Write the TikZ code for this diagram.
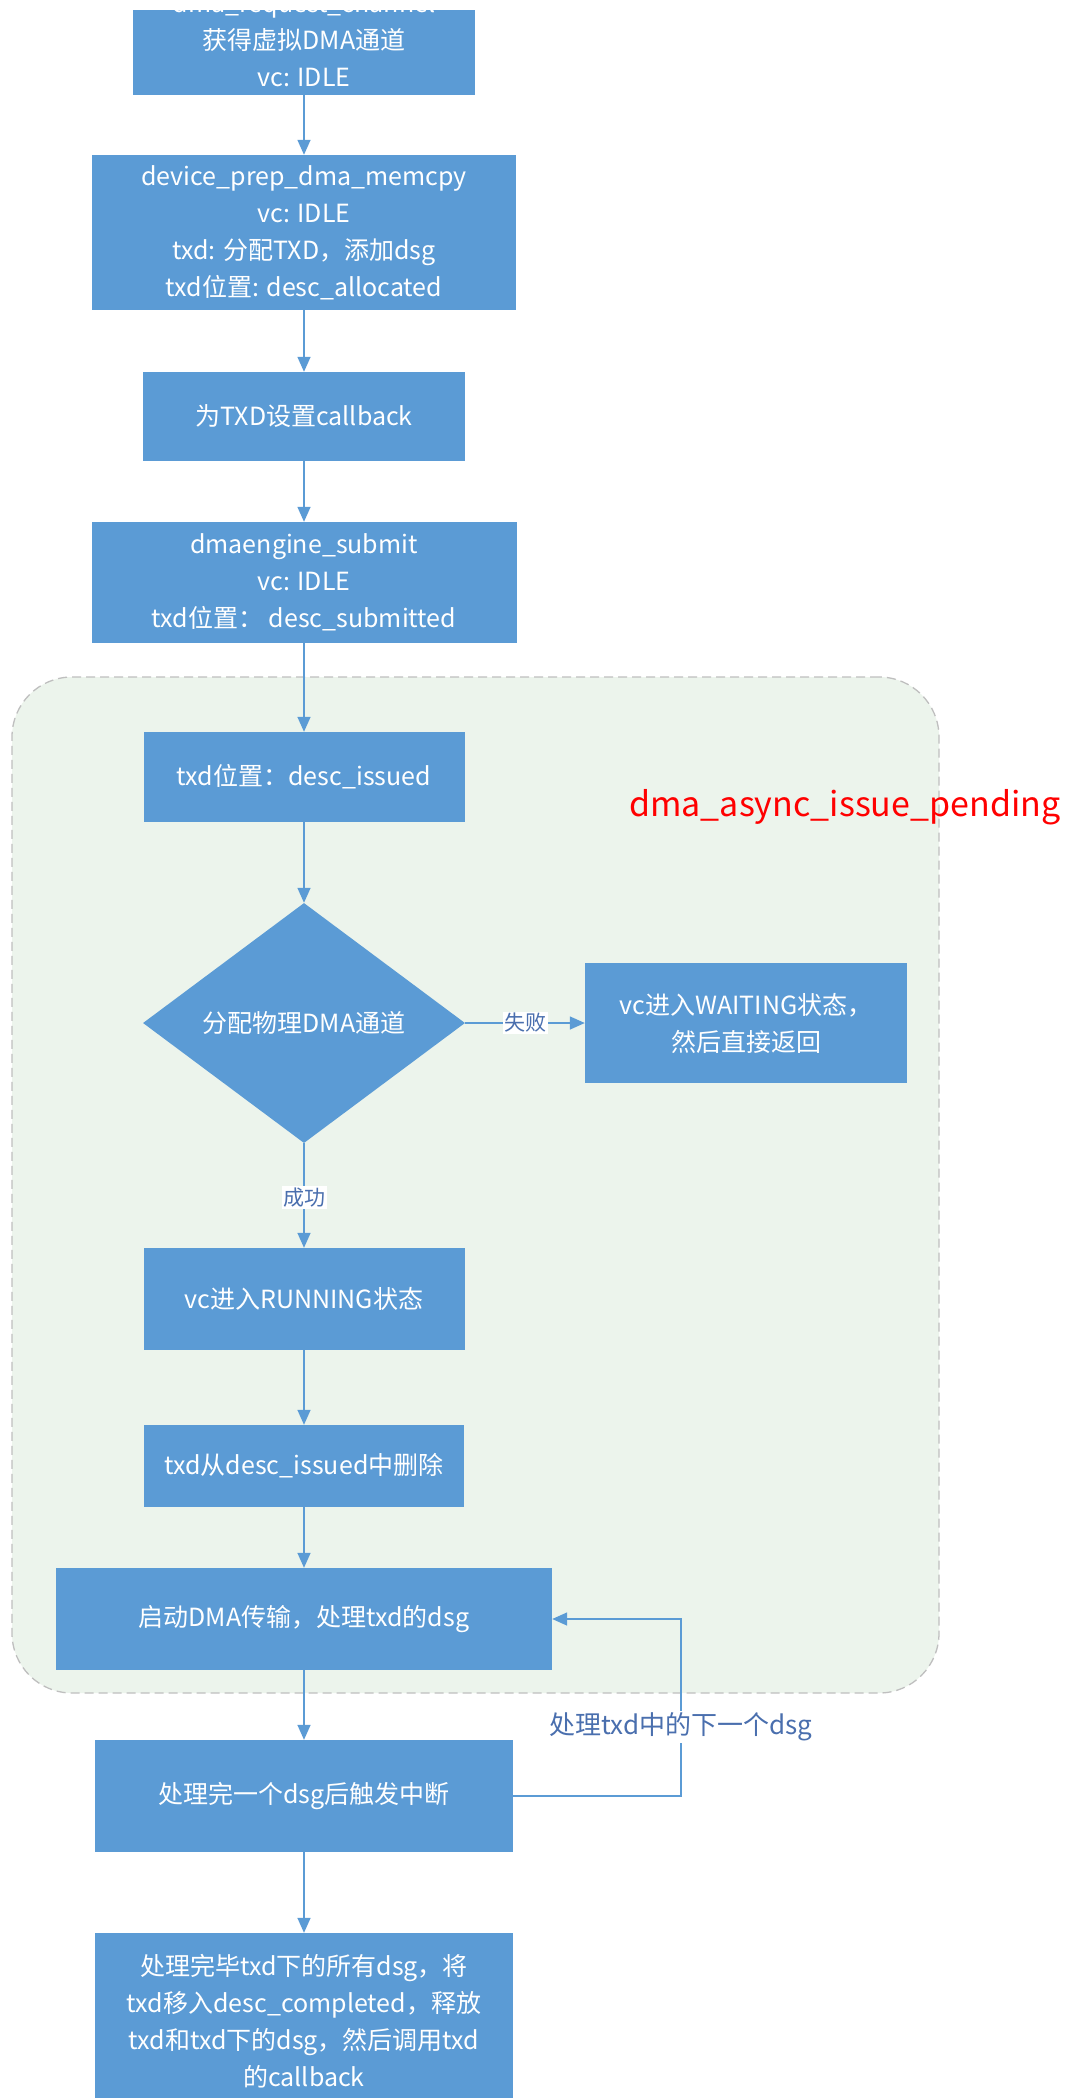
\documentclass[tikz,border=0pt]{standalone}
\usepackage{fontspec}
\setmainfont{Noto Sans CJK SC}
\usetikzlibrary{arrows.meta,shapes.geometric}
\definecolor{boxblue}{HTML}{5B9BD5}
\definecolor{lineblue}{HTML}{5B9BD5}
\definecolor{bggreen}{HTML}{ECF4EC}
\definecolor{dashgray}{HTML}{BFBFBF}
\definecolor{labeltext}{HTML}{4A6FAE}
\begin{document}
\begin{tikzpicture}[x=1pt,y=-1pt,
  blk/.style={rectangle, fill=boxblue, text=white, align=center, inner sep=0pt,
    font=\fontsize{25}{37}\selectfont},
  decide/.style={diamond, aspect=1.34, fill=boxblue, text=white, inner sep=0pt,
    font=\fontsize{25}{37}\selectfont},
  conn/.style={draw=lineblue, line width=1.5pt, -{Triangle[width=13pt,length=15pt]}},
  lbl/.style={fill=white, text=labeltext, inner sep=1.5pt, font=\fontsize{21}{24}\selectfont},
  grpbox/.style={rectangle, draw=dashgray, fill=bggreen, dash pattern=on 9pt off 5pt,
    line width=1.3pt, rounded corners=60pt, inner sep=0pt}
]
\useasboundingbox (0,0) rectangle (1071,2098);
\fill[white] (0,0) rectangle (1071,2098);

% group container
\node[grpbox, minimum width=927pt, minimum height=1016pt] (grp) at (475.5,1185) {};
\node[anchor=west, text=red, inner sep=0pt, font=\fontsize{34}{40}\selectfont] (grplabel) at (629,807) {dma\_async\_issue\_pending};

% boxes
\node[blk, minimum width=342pt, minimum height=110pt] (b1) at (304,40) {dma\_request\_channel\\获得虚拟DMA通道\\vc: IDLE};
\node[blk, minimum width=424pt, minimum height=155pt] (b2) at (304,232.5) {device\_prep\_dma\_memcpy\\vc: IDLE\\txd: 分配TXD，添加dsg\\txd位置: desc\_allocated};
\node[blk, minimum width=322pt, minimum height=89pt] (b3) at (304,416.5) {为TXD设置callback};
\node[blk, minimum width=425pt, minimum height=121pt] (b4) at (304,582.5) {dmaengine\_submit\\vc: IDLE\\txd位置： desc\_submitted};
\node[blk, minimum width=321pt, minimum height=90pt] (b5) at (304,777) {txd位置：desc\_issued};
\node[decide, minimum width=322pt, minimum height=240pt] (d) at (304,1023) {分配物理DMA通道};
\node[blk, minimum width=322pt, minimum height=120pt] (b6) at (746,1023) {vc进入WAITING状态，\\然后直接返回};
\node[blk, minimum width=321pt, minimum height=102pt] (b7) at (304,1299) {vc进入RUNNING状态};
\node[blk, minimum width=320pt, minimum height=82pt] (b8) at (304,1466) {txd从desc\_issued中删除};
\node[blk, minimum width=496pt, minimum height=102pt] (b9) at (304,1619) {启动DMA传输，处理txd的dsg};
\node[blk, minimum width=418pt, minimum height=112pt] (b10) at (304,1796) {处理完一个dsg后触发中断};
\node[blk, minimum width=418pt, minimum height=177pt] (b11) at (304,2021.5) {处理完毕txd下的所有dsg，将\\txd移入desc\_completed，释放\\txd和txd下的dsg，然后调用txd\\的callback};

% top strip of the page (reference is cropped here)
\fill[white] (0,-30) rectangle (1071,10);

% connectors
\draw[conn] (b1) -- (b2);
\draw[conn] (b2) -- (b3);
\draw[conn] (b3) -- (b4);
\draw[conn] (b4) -- (b5);
\draw[conn] (b5) -- (d);
\draw[conn] (d) -- node[lbl] (fail) {失败} (b6);
\draw[conn] (d) -- node[lbl, pos=0.52] (ok) {成功} (b7);
\draw[conn] (b7) -- (b8);
\draw[conn] (b8) -- (b9);
\draw[conn] (b9) -- (b10);
\draw[conn] (b10) -- (b11);
\coordinate (loopbot) at (681,1796);
\coordinate (looptop) at (681,1619);
\draw[conn] (b10.east) -- (loopbot) -- node[lbl, pos=0.39, font=\fontsize{26}{30}\selectfont] (next) {处理txd中的下一个dsg} (looptop) -- (b9.east);
\end{tikzpicture}
\end{document}
